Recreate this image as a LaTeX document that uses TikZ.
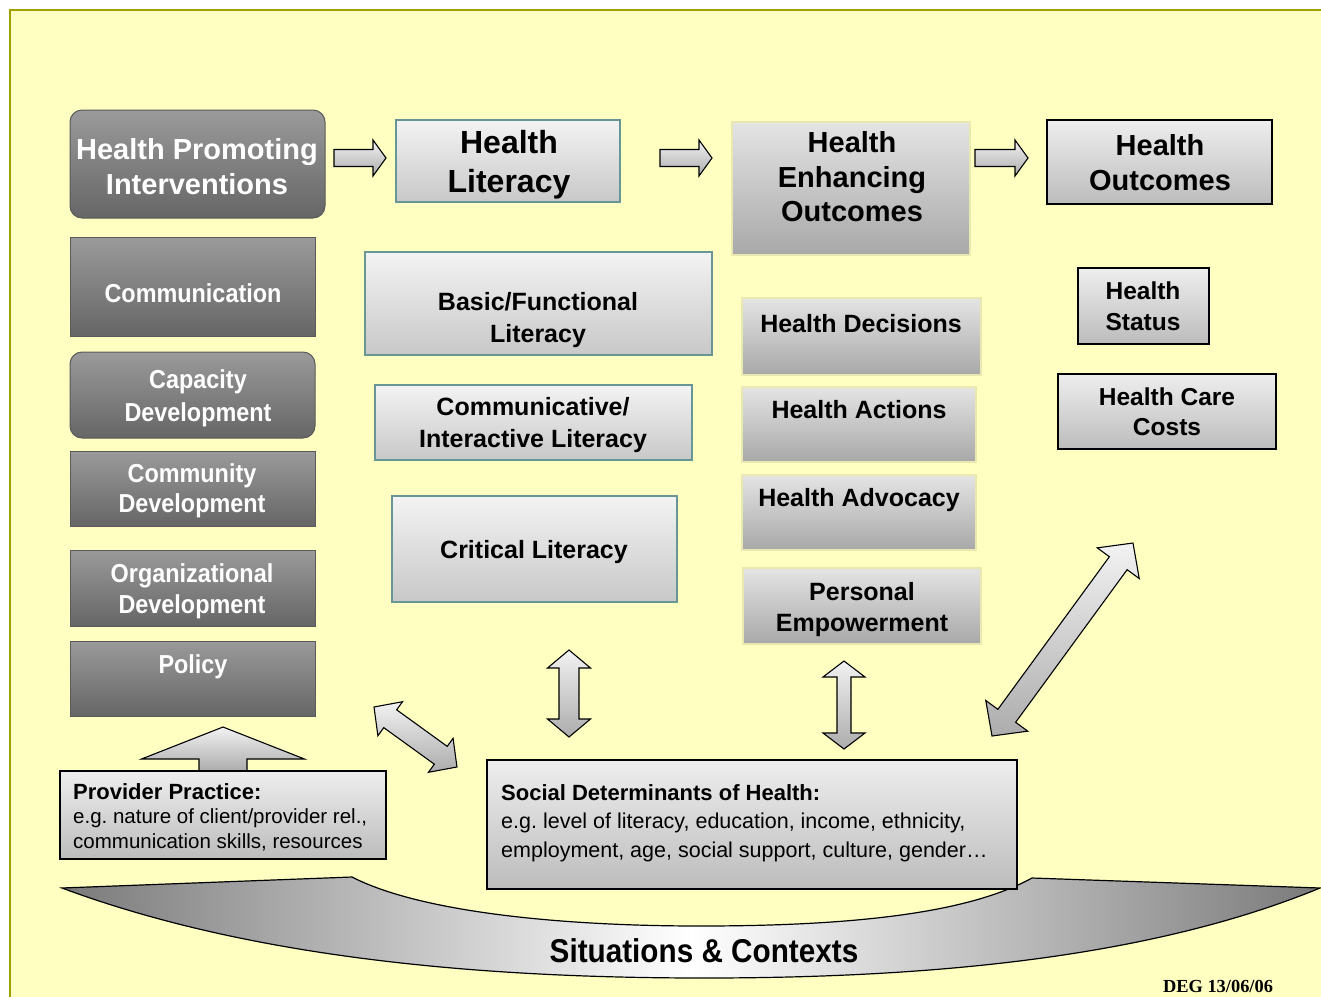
\documentclass[tikz,border=0pt]{standalone}
\usepackage{fontspec}
\setmainfont{Liberation Sans}
\newfontfamily\narrowfont[FakeStretch=0.9]{Liberation Sans}
\newfontfamily\serifbold{Liberation Serif}
\usetikzlibrary{calc}

\definecolor{bgyellow}{RGB}{255,255,194}
\definecolor{bgedge}{RGB}{160,160,0}
\definecolor{darktop}{RGB}{154,154,154}
\definecolor{darkbot}{RGB}{102,102,102}
\definecolor{darkedge}{RGB}{90,90,90}
\definecolor{littop}{RGB}{243,243,243}
\definecolor{litbot}{RGB}{200,200,200}
\definecolor{litedge}{RGB}{104,150,150}
\definecolor{midtop}{RGB}{228,228,228}
\definecolor{midbot}{RGB}{168,168,168}
\definecolor{midedge}{RGB}{232,232,176}
\definecolor{outtop}{RGB}{238,238,238}
\definecolor{outbot}{RGB}{188,188,188}
\definecolor{swend}{RGB}{122,122,122}
\definecolor{arrtop}{RGB}{242,242,242}
\definecolor{arrbot}{RGB}{172,172,172}

\tikzset{
  box/.style={rectangle, inner sep=0pt, outer sep=0pt},
  sz/.style 2 args={minimum width=#1pt, minimum height=#2pt},
  darkbox/.style={box, draw=darkedge, line width=1pt, top color=darktop, bottom color=darkbot},
  litbox/.style={box, draw=litedge, line width=1.3pt, top color=littop, bottom color=litbot},
  midbox/.style={box, draw=midedge, line width=1.8pt, top color=midtop, bottom color=midbot},
  outbox/.style={box, draw=black, line width=1.2pt, top color=outtop, bottom color=outbot},
  whitetxt/.style={text=white, inner sep=0pt, align=center, font=\narrowfont\bfseries\fontsize{26}{31}\selectfont},
  boldtxt/.style={inner sep=0pt, align=center, font=\bfseries\fontsize{25}{32}\selectfont},
  arrowfill/.style={draw=black, line width=1.1pt, top color=arrtop, bottom color=arrbot},
  swoosh/.style={draw=black, line width=1.2pt, left color=swend, right color=swend, middle color=white}
}

% block arrow: start, end, shaft half width, head half width, head length
\newcommand{\fatarrow}[5]{%
  \path[arrowfill] let \p1=(#1), \p2=(#2),
    \n1={atan2(\y2-\y1,\x2-\x1)}, \n2={veclen(\x2-\x1,\y2-\y1)} in
    [shift={(\p1)}, rotate=\n1]
    (0,#3) -- ({\n2-#5},#3) -- ({\n2-#5},#4) -- (\n2,0)
    -- ({\n2-#5},-#4) -- ({\n2-#5},-#3) -- (0,-#3) -- cycle;}
\newcommand{\fatdarrow}[5]{%
  \path[arrowfill] let \p1=(#1), \p2=(#2),
    \n1={atan2(\y2-\y1,\x2-\x1)}, \n2={veclen(\x2-\x1,\y2-\y1)} in
    [shift={(\p1)}, rotate=\n1]
    (0,0) -- (#5,#4) -- (#5,#3) -- ({\n2-#5},#3) -- ({\n2-#5},#4) -- (\n2,0)
    -- ({\n2-#5},-#4) -- ({\n2-#5},-#3) -- (#5,-#3) -- (#5,-#4) -- cycle;}

\begin{document}
\begin{tikzpicture}[x=1pt,y=-1pt]
  \useasboundingbox (0,0) rectangle (1321,996);
  \fill[white] (0,0) rectangle (1321,996);
  \draw[bgedge, fill=bgyellow, line width=1.5pt] (10,10) rectangle (1340,1010);

  % situations & contexts band
  \draw[swoosh] (62,888) -- (352,877)
    .. controls (420,912) and (560,926) .. (700,926)
    .. controls (860,926) and (970,912) .. (1032,878)
    -- (1320,888)
    .. controls (1150,958) and (930,978) .. (704,978)
    .. controls (480,978) and (250,958) .. (62,888) -- cycle;
  \node[inner sep=0pt, anchor=base, font=\narrowfont\bfseries\fontsize{33}{38}\selectfont] (sit) at (704,962) {Situations \& Contexts};

  % interventions
  \node[darkbox, rounded corners=12pt, sz={255}{108}] (hpi) at (197.5,164) {};
  \node[inner sep=0pt, align=center, text=white, font=\bfseries\fontsize{29}{35}\selectfont] (t-hpi) at (197,167) {Health Promoting\\Interventions};
  \node[darkbox, sz={245}{99}] (comm) at (192.5,286.5) {};
  \node[whitetxt, anchor=base] (t-comm) at (193,302) {Communication};
  \node[darkbox, rounded corners=12pt, sz={245}{86}] (cap) at (192.5,395) {};
  \node[whitetxt, font=\narrowfont\bfseries\fontsize{26}{33}\selectfont] (t-cap) at (198,398) {Capacity\\Development};
  \node[darkbox, sz={245}{75}] (cmty) at (192.5,488.5) {};
  \node[whitetxt, font=\narrowfont\bfseries\fontsize{26}{30}\selectfont] (t-cmty) at (192,491) {Community\\Development};
  \node[darkbox, sz={245}{76}] (org) at (192.5,588) {};
  \node[whitetxt] (t-org) at (192,591) {Organizational\\Development};
  \node[darkbox, sz={245}{75}] (pol) at (192.5,678.5) {};
  \node[whitetxt, anchor=base] (t-pol) at (193,673) {Policy};

  % health literacy
  \node[litbox, sz={224}{82}] (hlit) at (508,161) {};
  \node[boldtxt, font=\bfseries\fontsize{32}{39}\selectfont] (t-hlit) at (509,164.4) {Health\\Literacy};
  \node[litbox, sz={347}{103}] (basic) at (538.5,303.5) {};
  \node[boldtxt] (t-basic) at (538,319.6) {Basic/Functional\\Literacy};
  \node[litbox, sz={317}{75}] (inter) at (533.5,422.5) {};
  \node[boldtxt] (t-inter) at (533,424.6) {Communicative/\\Interactive Literacy};
  \node[litbox, sz={285}{106}] (crit) at (534.5,549) {};
  \node[boldtxt, anchor=base] (t-crit) at (534,558) {Critical Literacy};

  % health enhancing outcomes
  \node[midbox, sz={238}{133}] (heo) at (851,188.5) {};
  \node[boldtxt, font=\bfseries\fontsize{29}{34.5}\selectfont] (t-heo) at (852,177) {Health\\Enhancing\\Outcomes};
  \node[midbox, sz={239}{77}] (dec) at (861.5,336.5) {};
  \node[boldtxt, anchor=base] (t-dec) at (861,332) {Health Decisions};
  \node[midbox, sz={234}{75}] (act) at (859,424.5) {};
  \node[boldtxt, anchor=base] (t-act) at (859,418) {Health Actions};
  \node[midbox, sz={234}{75}] (adv) at (859,512.5) {};
  \node[boldtxt, anchor=base] (t-adv) at (859,506) {Health Advocacy};
  \node[midbox, sz={238}{76}] (emp) at (862,606) {};
  \node[boldtxt, font=\bfseries\fontsize{25}{31.5}\selectfont] (t-emp) at (862,609.6) {Personal\\Empowerment};

  % health outcomes
  \node[outbox, sz={225}{84}] (hout) at (1159.5,162) {};
  \node[boldtxt, font=\bfseries\fontsize{29}{35}\selectfont] (t-hout) at (1160,162.4) {Health\\Outcomes};
  \node[outbox, sz={131}{76}] (stat) at (1143.5,306) {};
  \node[boldtxt, font=\bfseries\fontsize{24.5}{31}\selectfont] (t-stat) at (1143,305.9) {Health\\Status};
  \node[outbox, sz={218}{75}] (cost) at (1167,411.5) {};
  \node[boldtxt, font=\bfseries\fontsize{24.5}{30}\selectfont] (t-cost) at (1167,411.5) {Health Care\\Costs};

  % arrows
  \coordinate (a1s) at (334,158);  \coordinate (a1e) at (386,158);
  \coordinate (a2s) at (660,158);  \coordinate (a2e) at (712,158);
  \coordinate (a3s) at (975,158);  \coordinate (a3e) at (1028,158);
  \coordinate (ups) at (223,771);  \coordinate (upe) at (223,727);
  \coordinate (d1s) at (569,650);  \coordinate (d1e) at (569,737);
  \coordinate (d2s) at (844,661);  \coordinate (d2e) at (844,749);
  \coordinate (d3s) at (374,707);  \coordinate (d3e) at (457,767);
  \coordinate (d4s) at (992,736);  \coordinate (d4e) at (1133,543);
  \fatarrow{a1s}{a1e}{8.5}{18}{13}
  \fatarrow{a2s}{a2e}{8.5}{18}{13}
  \fatarrow{a3s}{a3e}{8.5}{18}{13}
  \fatarrow{ups}{upe}{24}{81.5}{32}
  \fatdarrow{d1s}{d1e}{10}{21.5}{18}
  \fatdarrow{d2s}{d2e}{7}{21}{16}
  \fatdarrow{d3s}{d3e}{11}{21}{20}
  \fatdarrow{d4s}{d4e}{11}{26}{25}

  % provider practice and social determinants
  \node[outbox, sz={326}{88}] (prov) at (223,815) {};
  \node[inner sep=0pt, anchor=north west, align=left, font=\fontsize{20.5}{24.5}\selectfont] (t-prov) at (73,783)
    {{\bfseries\fontsize{22}{24.5}\selectfont Provider Practice:}\\
     e.g.\ nature of client/provider rel.,\\communication skills, resources};
  \node[outbox, sz={530}{129}] (soc) at (752,824.5) {};
  \node[inner sep=0pt, anchor=north west, align=left, font=\fontsize{21.5}{28.5}\selectfont] (t-soc) at (501,784)
    {{\bfseries\fontsize{22}{28.5}\selectfont Social Determinants of Health:}\\
     e.g.\ level of literacy, education, income, ethnicity,\\employment, age, social support, culture, gender\ldots};

  \node[inner sep=0pt, anchor=base, font=\serifbold\bfseries\fontsize{18.4}{20}\selectfont] (deg) at (1218,992) {DEG 13/06/06};
\end{tikzpicture}
\end{document}
